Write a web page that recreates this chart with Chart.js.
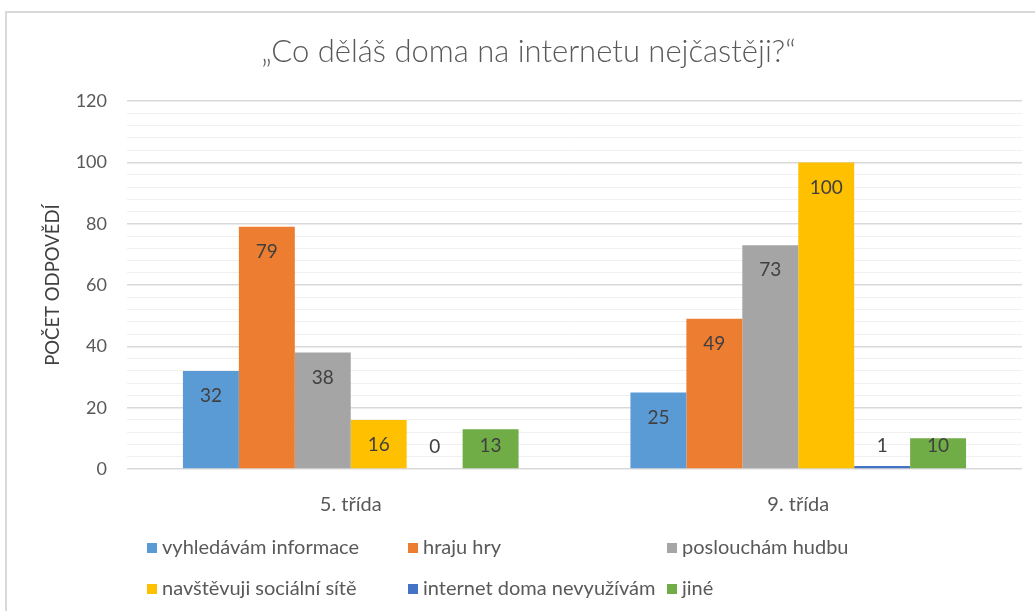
<!DOCTYPE html>
<html lang="cs">
<head>
<meta charset="utf-8">
<title>Co děláš doma na internetu nejčastěji?</title>
<script src="https://cdn.jsdelivr.net/npm/chart.js@4/dist/chart.umd.min.js"></script>
<style>
    body { margin: 0; background: #fff; }
    #wrap { position: relative; width: 1035px; height: 611px; overflow: hidden; }
    #frame { position: absolute; left: 5px; top: 11px; width: 1100px; height: 700px; border: 2px solid #d9d9d9; box-sizing: border-box; }
    #box { position: absolute; left: 0; top: 0; width: 1035px; height: 611px; }
    #legend { position: absolute; left: 0; top: 0; font-family: Lato, "Open Sans", sans-serif; font-size: 20px; color: #595959; }
    .item { position: absolute; white-space: nowrap; line-height: 22px; }
    .item span.sw { display: inline-block; width: 10px; height: 10px; margin-right: 5px; vertical-align: 1px; }
</style>
</head>
<body>
<div id="wrap">
    <div id="frame"></div>
    <div id="box"><canvas id="chart"></canvas></div>
    <div id="legend"></div>
</div>
<script>
const categories = ['5. třída', '9. třída'];
const seriesNames = ['vyhledávám informace', 'hraju hry', 'poslouchám hudbu', 'navštěvuji sociální sítě', 'internet doma nevyužívám', 'jiné'];
const seriesColors = ['#5B9BD5', '#ED7D31', '#A5A5A5', '#FFC000', '#4472C4', '#70AD47'];
const vyhledavam = [32, 25];
const hrajuHry = [79, 49];
const hudba = [38, 73];
const socialniSite = [16, 100];
const nevyuzivam = [0, 1];
const jine = [13, 10];
const seriesValues = [vyhledavam, hrajuHry, hudba, socialniSite, nevyuzivam, jine];
const yTicks = [0, 20, 40, 60, 80, 100, 120];

const fontFamily = 'Lato, "Open Sans", sans-serif';
const textColor = '#595959';

// values printed inside the top end of each bar
const valueLabels = {
    id: 'valueLabels',
    afterDatasetsDraw(chart) {
        const ctx = chart.ctx;
        ctx.save();
        ctx.font = '19px ' + fontFamily;
        ctx.fillStyle = '#404040';
        ctx.textAlign = 'center';
        ctx.textBaseline = 'middle';
        chart.data.datasets.forEach((ds, i) => {
            const meta = chart.getDatasetMeta(i);
            meta.data.forEach((bar, j) => {
                const y = Math.min(bar.y + 25, bar.base - 22);
                ctx.fillText(String(ds.data[j]), bar.x, y);
            });
        });
        ctx.restore();
    }
};

const chart = new Chart(document.getElementById('chart'), {
    type: 'bar',
    data: {
        labels: categories,
        datasets: seriesNames.map((name, i) => ({
            label: name,
            data: seriesValues[i],
            backgroundColor: seriesColors[i],
            borderWidth: 0,
            categoryPercentage: 0.75,
            barPercentage: 1
        }))
    },
    options: {
        responsive: true,
        maintainAspectRatio: false,
        animation: false,
        layout: { padding: { left: 35, right: 13, top: 0, bottom: 90 } },
        plugins: {
            legend: { display: false },
            tooltip: { enabled: false },
            title: {
                display: true,
                text: '„Co děláš doma na internetu nejčastěji?“',
                color: textColor,
                font: { family: fontFamily, size: 31, weight: '300' },
                padding: { top: 33, bottom: 31 }
            }
        },
        scales: {
            x: {
                grid: { display: false },
                border: { display: false },
                ticks: { color: textColor, font: { family: fontFamily, size: 20 }, padding: 16 },
                afterFit(scale) { scale.height = 52; }
            },
            y: {
                min: 0,
                max: 120,
                border: { display: false },
                grid: {
                    drawTicks: false,
                    color: ctx => (ctx.tick && ctx.tick.value % 20 === 0) ? '#d9d9d9' : '#f0f0f0',
                    lineWidth: ctx => (ctx.tick && ctx.tick.value % 20 === 0) ? 1.5 : 1
                },
                ticks: {
                    stepSize: 4,
                    autoSkip: false,
                    padding: 20,
                    color: textColor,
                    font: { family: fontFamily, size: 18 },
                    callback: v => yTicks.includes(v) ? v : ''
                },
                title: {
                    display: true,
                    text: 'POČET ODPOVĚDÍ',
                    color: '#404040',
                    font: { family: fontFamily, size: 18.5 },
                    padding: { top: 7, bottom: 0 }
                },
                afterFit(scale) { scale.width = 92; }
            }
        }
    },
    plugins: [valueLabels]
});

// legend in three fixed columns like the original
const legendEl = document.getElementById('legend');
const colX = [147, 408, 667];
const rowY = [535, 576];
chart.data.datasets.forEach((ds, i) => {
    const item = document.createElement('div');
    item.className = 'item';
    item.style.left = colX[i % 3] + 'px';
    item.style.top = rowY[Math.floor(i / 3)] + 'px';
    item.innerHTML = `<span class="sw" style="background:${ds.backgroundColor}"></span>${ds.label}`;
    legendEl.appendChild(item);
});
</script>
</body>
</html>
